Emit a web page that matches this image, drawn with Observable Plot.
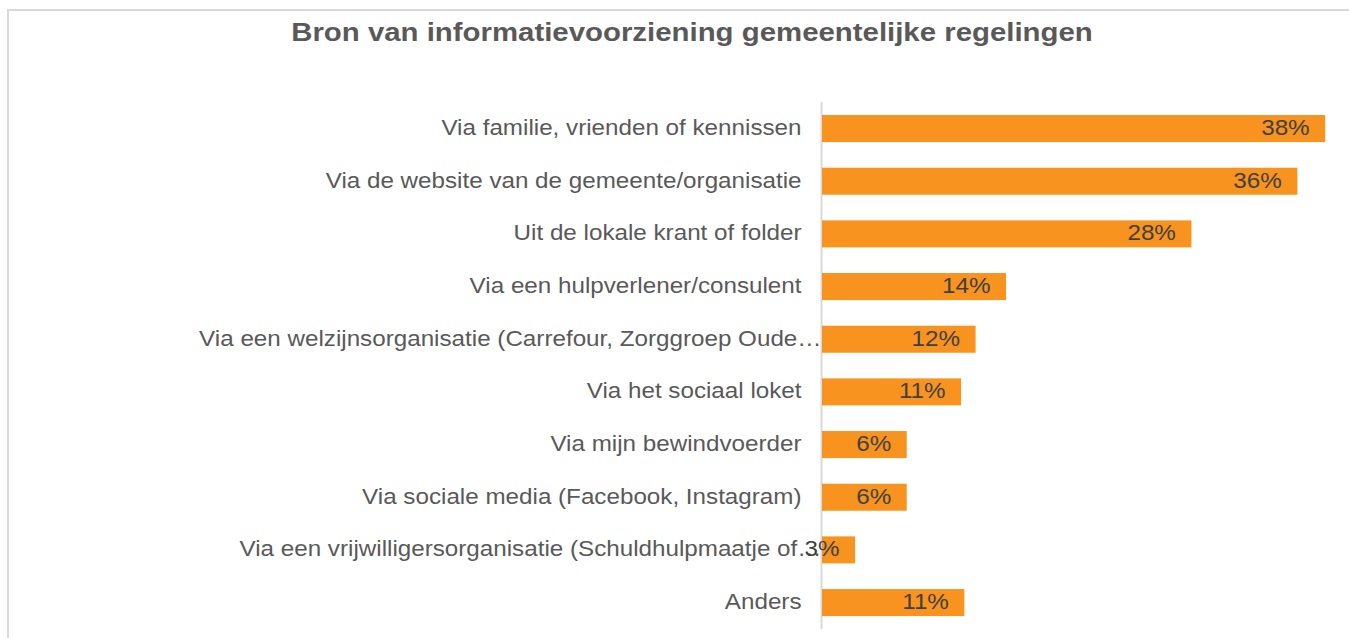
<!DOCTYPE html>
<html>
<head>
<meta charset="utf-8">
<script src="https://cdn.jsdelivr.net/npm/d3@7"></script>
<script src="https://cdn.jsdelivr.net/npm/@observablehq/plot@0.6"></script>
<style>
  html, body { margin: 0; padding: 0; background: #fff; }
  body { width: 1349px; height: 638px; position: relative; overflow: hidden; font-family: "Liberation Sans", Arial, sans-serif; }
  #frame { position: absolute; left: 7px; top: 9px; width: 1360px; height: 650px; border-top: 2px solid #d9d9d9; border-left: 2px solid #d9d9d9; box-sizing: border-box; }
  #title { position: absolute; left: 0; top: 16px; width: 1384px; text-align: center; font-size: 26px; line-height: 32px; font-weight: bold; color: #595959; transform: scaleX(1.13); transform-origin: 692px 0; white-space: nowrap; }
  #chart { position: absolute; left: 0; top: 60px; }
</style>
</head>
<body>
<div id="frame"></div>
<div id="title">Bron van informatievoorziening gemeentelijke regelingen</div>
<div id="chart"></div>
<script>
const categories = [
  "Via familie, vrienden of kennissen",
  "Via de website van de gemeente/organisatie",
  "Uit de lokale krant of folder",
  "Via een hulpverlener/consulent",
  "Via een welzijnsorganisatie (Carrefour, Zorggroep Oude…",
  "Via het sociaal loket",
  "Via mijn bewindvoerder",
  "Via sociale media (Facebook, Instagram)",
  "Via een vrijwilligersorganisatie (Schuldhulpmaatje of…",
  "Anders"
];
const values = [38.0, 35.9, 27.9, 13.9, 11.6, 10.5, 6.4, 6.4, 2.5, 10.75];
const valueLabels = ["38%", "36%", "28%", "14%", "12%", "11%", "6%", "6%", "3%", "11%"];

const data = categories.map((c, i) => ({category: c, value: values[i], label: valueLabels[i], truncated: c.endsWith("…")}));

const chart = Plot.plot({
  width: 1349,
  height: 578,
  marginLeft: 822,
  marginRight: 0,
  marginTop: 42.2,
  marginBottom: 9.1,
  style: {fontFamily: "'Liberation Sans', Arial, sans-serif", background: "transparent", overflow: "visible"},
  x: {domain: [0, 39.8], axis: null},
  y: {domain: categories, paddingInner: 0.487, paddingOuter: 0.2435, round: false, axis: null},
  marks: [
    Plot.ruleX([0], {stroke: "#d9d9d9", strokeWidth: 2, dx: -1}),
    Plot.barX(data, {y: "category", x: "value", fill: "#F7931E"}),
    Plot.text(data.filter(d => !d.truncated), {y: "category", x: 0, text: "category", textAnchor: "end", dx: -21, dy: -1, fontSize: 22, fill: "#595959"}),
    Plot.text(data.filter(d => d.truncated), {y: "category", x: 0, text: "category", textAnchor: "end", dx: -1, dy: -1, fontSize: 22, fill: "#595959"}),
    Plot.text(data, {y: "category", x: "value", text: "label", textAnchor: "end", dx: -16, dy: -1, fontSize: 22, fill: "#404040"})
  ]
});
document.getElementById("chart").appendChild(chart);
// widen glyphs horizontally to match the reference's wider text rendering
d3.select(chart).selectAll("text").each(function() {
  const len = this.getComputedTextLength();
  if (len > 0) {
    this.setAttribute("textLength", (len * 1.1).toFixed(1));
    this.setAttribute("lengthAdjust", "spacingAndGlyphs");
  }
});
</script>
</body>
</html>
